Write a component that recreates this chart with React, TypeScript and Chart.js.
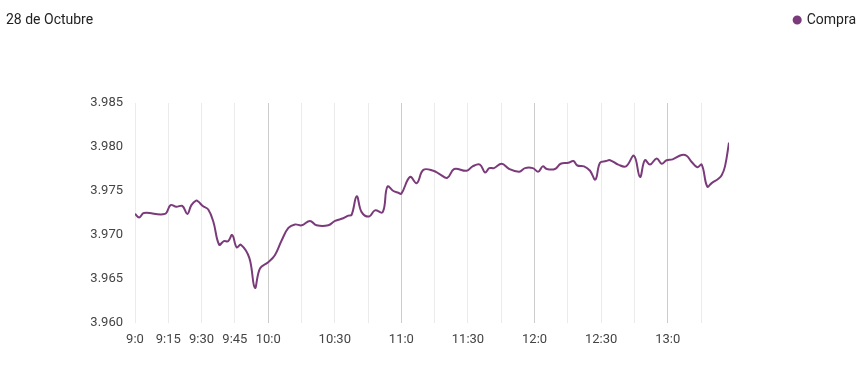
import React, { useEffect, useRef } from "react";
import { Chart, registerables } from "chart.js";

Chart.register(...registerables);

const TITLE = "28 de Octubre";
const SERIES_LABEL = "Compra";

// minutes since 9:00
const minutes = [
  0, 1.9, 4, 13.5, 16, 18.6, 21.3, 23.6, 25.4, 27.5, 28.5, 30.5, 33, 35.3, 37.9, 40, 42, 43.8, 45.8, 47.7,
  51.5, 54, 56.3, 60, 63, 66.1, 69.1, 72.1, 75.1, 78.8, 81.8, 87.1, 90.1, 93.8, 96.1, 97.6, 99.9, 102.1,
  105.5, 108.1, 111.6, 113.7, 116.4, 118.6, 120, 123.9, 126.9, 129.9, 134.4, 137.4, 140.7, 143.8, 149.4,
  152.1, 155.4, 157.7, 159.6, 161.7, 165.2, 168.6, 173.1, 175.7, 179.2, 181.7, 183.7, 185.5, 189.2, 191.8,
  195.2, 197.5, 199.3, 202.3, 205, 207.4, 209.5, 212.2, 214, 217.7, 221.2, 224.8, 227.5, 229.7, 232, 235,
  237.3, 239.5, 242.2, 246.3, 248.5, 250.8, 253.3, 255.3, 257.8, 259.8, 262.8, 264.3, 265.8, 267.6,
];

const compra = [
  3.9724, 3.972, 3.9725, 3.9724, 3.9734, 3.9732, 3.9733, 3.9724, 3.9734, 3.9739, 3.9738, 3.9733, 3.9729,
  3.9715, 3.9689, 3.9693, 3.9693, 3.97, 3.9686, 3.9689, 3.9674, 3.964, 3.9662, 3.9669, 3.9677, 3.9694,
  3.9708, 3.9712, 3.9711, 3.9716, 3.9711, 3.9711, 3.9716, 3.9719, 3.9722, 3.9723, 3.9744, 3.9726, 3.9721,
  3.9728, 3.9726, 3.9755, 3.975, 3.9748, 3.9747, 3.9766, 3.9759, 3.9774, 3.9773, 3.9769, 3.9765, 3.9775,
  3.9773, 3.9778, 3.978, 3.9771, 3.9776, 3.9776, 3.9781, 3.9775, 3.9772, 3.9776, 3.9776, 3.9772, 3.9778,
  3.9775, 3.9775, 3.9781, 3.9782, 3.9784, 3.9779, 3.9778, 3.9773, 3.9763, 3.9782, 3.9784, 3.9785, 3.978,
  3.9778, 3.979, 3.9766, 3.9785, 3.978, 3.9787, 3.9781, 3.9785, 3.9786, 3.9791, 3.979, 3.9783, 3.9777,
  3.978, 3.9755, 3.9759, 3.9764, 3.9768, 3.9778, 3.9805,
];

const gridMinutes = [0, 15, 30, 45, 60, 75, 90, 105, 120, 135, 150, 165, 180, 195, 210, 225, 240, 255];
const tickLabelMinutes = [0, 15, 30, 45, 60, 90, 120, 150, 180, 210, 240];
const tickLabels = ["9:0", "9:15", "9:30", "9:45", "10:0", "10:30", "11:0", "11:30", "12:0", "12:30", "13:0"];

const Y_MIN = 3.96;
const Y_MAX = 3.985;
const Y_STEP = 0.005;

const LINE_COLOR = "#7b3b7b";
const FONT = "Roboto";

export default function App() {
  const ref = useRef<HTMLCanvasElement | null>(null);

  useEffect(() => {
    if (!ref.current) return;

    const titlePlugin = {
      id: "leftTitle",
      afterDraw(chart: any) {
        const ctx = chart.ctx;
        ctx.save();
        ctx.font = `14px ${FONT}`;
        ctx.fillStyle = "#222222";
        ctx.textBaseline = "middle";
        ctx.textAlign = "left";
        ctx.fillText(TITLE, 6, 20);
        ctx.restore();
      },
    };

    const legendHeightPlugin = {
      id: "legendHeight",
      beforeLayout(chart: any) {
        const lg = chart.legend;
        if (lg && !lg._patched) {
          const orig = lg.fit.bind(lg);
          lg.fit = function () {
            orig();
            this.height = 100;
          };
          lg._patched = true;
        }
      },
    };

    const chart = new Chart(ref.current, {
      type: "line",
      data: {
        datasets: [
          {
            label: SERIES_LABEL,
            data: minutes.map((m, i) => ({ x: m, y: compra[i] })),
            borderColor: LINE_COLOR,
            backgroundColor: LINE_COLOR,
            borderWidth: 2,
            pointRadius: 0,
            pointHoverRadius: 0,
            tension: 0.4,
            fill: false,
            yAxisID: "y",
          },
        ],
      },
      options: {
        responsive: false,
        animation: false,
        layout: { padding: { left: 0, right: 0, top: 3, bottom: 0 } },
        plugins: {
          tooltip: { enabled: false },
          legend: {
            display: true,
            position: "top",
            align: "end",
            labels: {
              usePointStyle: true,
              pointStyle: "circle",
              boxWidth: 5,
              boxHeight: 5,
              padding: 10,
              color: "#222222",
              font: { family: FONT, size: 14 },
            },
          },
        },
        scales: {
          x: {
            type: "linear",
            min: minutes[0],
            max: minutes[minutes.length - 1],
            afterBuildTicks: (scale: any) => {
              scale.ticks = gridMinutes.map((v) => ({ value: v }));
            },
            afterFit: (scale: any) => {
              scale.height = 65;
            },
            ticks: {
              autoSkip: false,
              maxRotation: 0,
              padding: 9,
              color: "#444444",
              font: { family: FONT, size: 13 },
              callback: (v: any) => {
                const idx = tickLabelMinutes.indexOf(Number(v));
                return idx >= 0 ? tickLabels[idx] : "";
              },
            },
            grid: {
              display: true,
              drawTicks: false,
              lineWidth: 1,
              color: (ctx: any) => {
                const v = ctx.tick ? ctx.tick.value : 0;
                return v > 0 && v % 60 === 0 ? "#cccccc" : "#ebebeb";
              },
            },
            border: { display: false },
          },
          y: {
            type: "linear",
            position: "left",
            min: Y_MIN,
            max: Y_MAX,
            afterFit: (scale: any) => {
              scale.width = 135;
            },
            ticks: {
              stepSize: Y_STEP,
              padding: 12,
              color: "#444444",
              font: { family: FONT, size: 13 },
              callback: (v: any) => Number(v).toFixed(3),
            },
            grid: { display: false, drawTicks: false },
            border: { display: false },
          },
          yRight: {
            type: "linear",
            position: "right",
            display: true,
            afterFit: (scale: any) => {
              scale.width = 137;
            },
            ticks: { display: false },
            grid: { display: false, drawTicks: false },
            border: { display: false },
          },
        },
      },
      plugins: [titlePlugin, legendHeightPlugin],
    } as any);

    return () => chart.destroy();
  }, []);

  return (
    <div style={{ position: "absolute", left: 0, top: 0, width: 866, height: 388, background: "#fff" }}>
      <canvas ref={ref} width={866} height={388} style={{ display: "block" }} />
    </div>
  );
}
